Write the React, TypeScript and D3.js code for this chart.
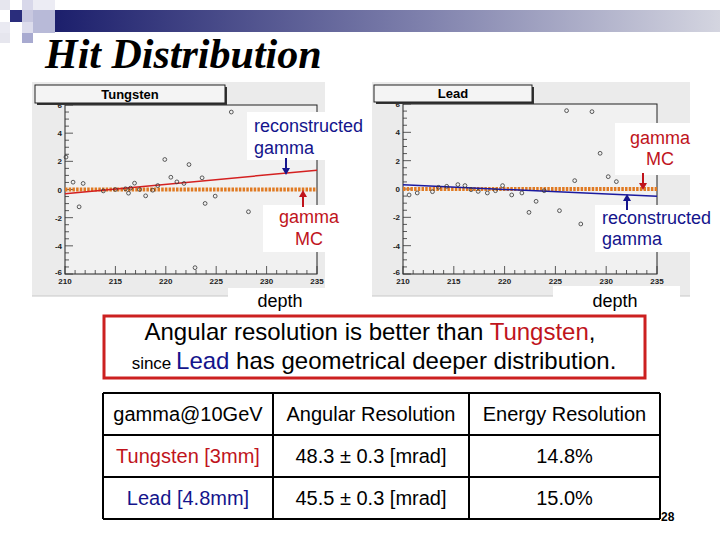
import React from 'react';
import * as d3 from 'd3';

// hit offsets vs depth, Tungsten absorber
const tungstenDepth = [210.1, 210.8, 211.4, 211.8, 213.8, 215.0, 216.0, 216.3, 216.5, 216.9, 217.4, 218.0, 218.7, 219.2, 219.9, 220.5, 221.1, 221.8, 222.3, 222.9, 223.6, 223.9, 224.9, 226.5, 228.2];
const tungstenOffset = [2.3, 0.52, -1.23, 0.43, -0.1, 0.0, 0.05, -0.26, 0.1, 0.45, 0.0, -0.45, -0.05, 0.28, 2.13, 0.87, 0.54, 0.43, 1.77, -5.55, 0.83, -0.99, -0.47, 5.5, -1.58];
// hit offsets vs depth, Lead absorber
const leadDepth = [210.6, 211.4, 212.9, 213.5, 214.3, 215.4, 216.1, 216.7, 217.4, 218.3, 219.1, 219.8, 220.7, 221.7, 222.4, 223.1, 223.9, 225.4, 226.1, 226.9, 227.5, 228.6, 229.4, 230.2, 231.0];
const leadOffset = [-0.42, -0.28, -0.19, 0.12, 0.19, 0.31, 0.24, -0.05, -0.17, -0.28, -0.12, 0.24, -0.42, -0.28, -1.65, -0.87, -0.12, -1.53, 5.53, 0.59, -2.47, 5.46, 2.52, 0.87, 0.52];

// fitted track (reconstructed gamma) at depth 210 and 235
const fitDepth = [210, 235];
const tungstenFit = [-0.3, 1.37];
const leadFit = [0.3, -0.52];
// true gamma direction (MC)
const mcFit = [0, 0];

const xTicks = [210, 215, 220, 225, 230, 235];
const yTicks = [-6, -4, -2, 0, 2, 4, 6];

const tableHeader = ['gamma@10GeV', 'Angular Resolution', 'Energy Resolution'];
const tableMaterials = ['Tungsten [3mm]', 'Lead [4.8mm]'];
const tableAngular = ['48.3 \u00b1 0.3 [mrad]', '45.5 \u00b1 0.3 [mrad]'];
const tableEnergy = ['14.8%', '15.0%'];

const SANS = '"Liberation Sans", Arial, sans-serif';
const RED = '#c0141c';
const NAVY = '#14148c';

type PanelProps = {
  canvas: [number, number, number, number];
  frame: [number, number, number, number];
  titleBox: [number, number, number, number];
  title: string;
  depth: number[];
  offset: number[];
  fit: number[];
  fitColor: string;
};

const Panel = ({ canvas, frame, titleBox, title, depth, offset, fit, fitColor }: PanelProps) => {
  const [l, t, r, b] = frame;
  const x = d3.scaleLinear().domain([210, 235]).range([l, r]);
  const y = d3.scaleLinear().domain([-6, 6]).range([b, t]);
  const line = d3.line<number>().x((_, i) => x(fitDepth[i])).y(v => y(v));
  const xMinor = d3.range(210, 235.01, 1);
  const yMinor = d3.range(-6, 6.01, 0.5);
  return (
    <g>
      <rect x={canvas[0]} y={canvas[1]} width={canvas[2] - canvas[0]} height={canvas[3] - canvas[1]} fill="#ebebeb" />
      <line x1={canvas[0]} x2={canvas[2]} y1={canvas[3]} y2={canvas[3]} stroke="#c8c8c8" />
      <rect x={l} y={t} width={r - l} height={b - t} fill="#f1f1f1" stroke="#222" strokeWidth={1} />
      {/* minor ticks */}
      {xMinor.map(v => (
        <line key={'xm' + v} x1={x(v)} x2={x(v)} y1={b} y2={b - (v % 5 === 0 ? 8 : 4)} stroke="#333" strokeWidth={0.8} />
      ))}
      {yMinor.map(v => (
        <line key={'ym' + v} x1={l} x2={l + (v % 2 === 0 ? 8 : 4)} y1={y(v)} y2={y(v)} stroke="#333" strokeWidth={0.8} />
      ))}
      {xTicks.map(v => (
        <text key={'xt' + v} x={x(v)} y={b + 10} fontSize={8} fontWeight="bold" fontFamily={SANS} textAnchor="middle" fill="#222">{v}</text>
      ))}
      {yTicks.map(v => (
        <text key={'yt' + v} x={l - 3} y={y(v) + (v === -6 ? 1 : 3)} fontSize={8} fontWeight="bold" fontFamily={SANS} textAnchor="end" fill="#222">{v}</text>
      ))}
      {/* MC direction */}
      <path d={line(mcFit) || ''} stroke="#e07a22" strokeWidth={4} strokeDasharray="2.5,1.2" fill="none" />
      {/* reconstructed track */}
      <path d={line(fit) || ''} stroke={fitColor} strokeWidth={1.5} fill="none" />
      {depth.map((d, i) => (
        <circle key={i} cx={x(d)} cy={y(offset[i])} r={1.9} fill="none" stroke="#333" strokeWidth={0.8} />
      ))}
      {/* title box */}
      <rect x={titleBox[0] + 2} y={titleBox[1] + 2} width={titleBox[2] - titleBox[0]} height={titleBox[3] - titleBox[1]} fill="#333" />
      <rect x={titleBox[0]} y={titleBox[1]} width={titleBox[2] - titleBox[0]} height={titleBox[3] - titleBox[1]} fill="#f4f4f4" stroke="#222" strokeWidth={1} />
      <text x={(titleBox[0] + titleBox[2]) / 2} y={titleBox[3] - 4} fontSize={13} fontWeight="bold" fontFamily={SANS} textAnchor="middle">{title}</text>
    </g>
  );
};

type NoteProps = { box: [number, number, number, number]; lines: string[]; color: string; anchor: 'start' | 'middle'; tx: number; baselines: number[] };

const Note = ({ box, lines, color, anchor, tx, baselines }: NoteProps) => (
  <g>
    <rect x={box[0]} y={box[1]} width={box[2] - box[0]} height={box[3] - box[1]} fill="#fff" />
    {lines.map((s, i) => (
      <text key={i} x={tx} y={baselines[i]} fontSize={18} fontFamily={SANS} fill={color} textAnchor={anchor}>{s}</text>
    ))}
  </g>
);

const Arrow = ({ x, y1, y2, color }: { x: number; y1: number; y2: number; color: string }) => {
  const dir = y2 > y1 ? 1 : -1;
  return (
    <g>
      <line x1={x} x2={x} y1={y1} y2={y2 - dir * 5} stroke={color} strokeWidth={2} />
      <path d={`M${x - 4},${y2 - dir * 7} L${x + 4},${y2 - dir * 7} L${x},${y2} Z`} fill={color} />
    </g>
  );
};

const squares = [
  { x: 0, y: 0, w: 10, h: 10, c: '#e6e6ee' },
  { x: 22, y: 0, w: 11, h: 10, c: '#d8d8ea' },
  { x: 33, y: 0, w: 22, h: 10, c: '#ececf4' },
  { x: 10, y: 10, w: 12, h: 12, c: '#2a2d7c' },
  { x: 22, y: 10, w: 11, h: 12, c: '#c8c8e0' },
  { x: 33, y: 10, w: 22, h: 23, c: '#b8bad8' },
  { x: 0, y: 22, w: 10, h: 11, c: '#eaeaf2' },
  { x: 22, y: 22, w: 11, h: 11, c: '#dcdcec' },
  { x: 22, y: 33, w: 11, h: 10, c: '#a8aad0' },
  { x: 0, y: 33, w: 10, h: 10, c: '#e6e6ee' },
];

export default function App() {
  const colX = [103, 273, 469, 660];
  const rowY = [393, 435, 477, 519];
  const colMid = d3.pairs(colX).map(([a, c]) => (a + c) / 2);
  const rowMid = d3.pairs(rowY).map(([a, c]) => (a + c) / 2);
  const rows = [tableHeader, ...tableMaterials.map((m, i) => [m, tableAngular[i], tableEnergy[i]])];
  const firstColColor = ['#000', RED, NAVY];
  return (
    <svg width={720} height={540} style={{ position: 'absolute', left: 0, top: 0, background: '#fff' }}>
      <defs>
        <linearGradient id="bar" x1="0" x2="1" y1="0" y2="0">
          <stop offset="0" stopColor="#1c1f6c" />
          <stop offset="0.55" stopColor="#7e80ac" />
          <stop offset="1" stopColor="#d4d5e0" />
        </linearGradient>
      </defs>
      <rect x={55} y={10} width={665} height={22} fill="url(#bar)" />
      {squares.map((s, i) => <rect key={i} x={s.x} y={s.y} width={s.w} height={s.h} fill={s.c} />)}
      <text x={45} y={68} fontSize={42} fontWeight="bold" fontStyle="italic" fontFamily='"Liberation Serif", "Times New Roman", serif'>Hit Distribution</text>

      <Panel canvas={[32, 82, 325, 296]} frame={[65, 105, 317, 274]} titleBox={[35, 85, 225, 103]} title="Tungsten"
        depth={tungstenDepth} offset={tungstenOffset} fit={tungstenFit} fitColor="#d42020" />
      <Panel canvas={[372, 82, 690, 296]} frame={[403, 104, 657, 274]} titleBox={[374, 85, 532, 102]} title="Lead"
        depth={leadDepth} offset={leadOffset} fit={leadFit} fitColor="#1a1aa0" />

      <Note box={[247, 112, 365, 160]} lines={['reconstructed', 'gamma']} color={NAVY} anchor="start" tx={254} baselines={[132, 154]} />
      <Arrow x={286} y1={158} y2={175} color={NAVY} />
      <Note box={[263, 205, 345, 252]} lines={['gamma', 'MC']} color={RED} anchor="middle" tx={309} baselines={[223, 245]} />
      <Arrow x={303} y1={207} y2={190} color={RED} />
      <Note box={[228, 288, 343, 312]} lines={['depth']} color="#000" anchor="middle" tx={280} baselines={[307]} />

      <Note box={[615, 123, 702, 175]} lines={['gamma', 'MC']} color={RED} anchor="middle" tx={660} baselines={[144, 165]} />
      <Arrow x={643} y1={173} y2={190} color={RED} />
      <Note box={[595, 205, 716, 252]} lines={['reconstructed', 'gamma']} color={NAVY} anchor="start" tx={602} baselines={[224, 245]} />
      <Arrow x={627} y1={210} y2={194} color={NAVY} />
      <Note box={[553, 286, 680, 312]} lines={['depth']} color="#000" anchor="middle" tx={615} baselines={[307]} />

      <rect x={104} y={316} width={541} height={62} fill="#fff" stroke="#cc2020" strokeWidth={3} />
      <text x={370} y={340} fontSize={24} fontFamily={SANS} textAnchor="middle">
        Angular resolution is better than <tspan fill={RED}>Tungsten</tspan>,
      </text>
      <text x={374} y={369} fontSize={24} fontFamily={SANS} textAnchor="middle">
        <tspan fontSize={17}>since </tspan><tspan fill={NAVY}>Lead</tspan> has geometrical deeper distribution.
      </text>

      {rows.map((row, ri) =>
        row.map((cell, ci) => (
          <text key={ri + '-' + ci} x={colMid[ci]} y={rowMid[ri] + 7} fontSize={20} fontFamily={SANS} textAnchor="middle"
            fill={ci === 0 ? firstColColor[ri] : '#000'}>{cell}</text>
        ))
      )}
      {rowY.map(v => <line key={'r' + v} x1={colX[0]} x2={colX[3]} y1={v} y2={v} stroke="#000" strokeWidth={2} />)}
      {colX.map(v => <line key={'c' + v} x1={v} x2={v} y1={rowY[0]} y2={rowY[3]} stroke="#000" strokeWidth={2} />)}
      <text x={661} y={521} fontSize={12} fontWeight="bold" fontFamily={SANS}>28</text>
    </svg>
  );
}
